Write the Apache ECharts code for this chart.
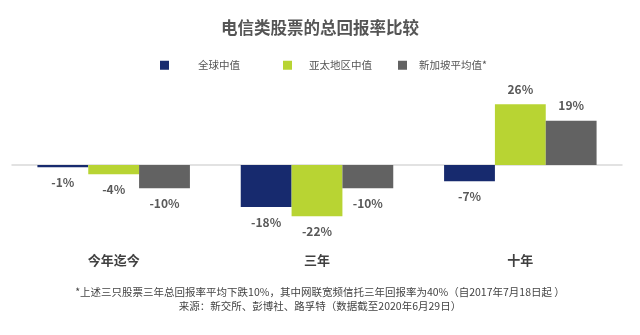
<!DOCTYPE html>
<html>
<head>
<meta charset="utf-8">
<script src="https://cdn.jsdelivr.net/npm/echarts@6/dist/echarts.min.js"></script>
<style>
  html, body { margin: 0; padding: 0; background: #ffffff; }
  #chart { width: 640px; height: 335px; }
</style>
</head>
<body>
<div id="chart"></div>
<script>
// Periods compared
const categories = ['今年迄今', '三年', '十年'];

// Total return (%) per group
const globalMedian = [-1, -18, -7];
const apacMedian = [-4, -22, 26];
const sgAverage = [-10, -10, 19];

const seriesNames = ['全球中值', '亚太地区中值', '新加坡平均值*'];
const seriesColors = ['#172a6e', '#b8d433', '#626262'];

const titleText = '电信类股票的总回报率比较';
const footnoteLines = [
  '*上述三只股票三年总回报率平均下跌10%，其中网联宽频信托三年回报率为40%（自2017年7月18日起 ）',
  '来源：新交所、彭博社、路孚特（数据截至2020年6月29日）'
];

const FONT = '"Noto Sans CJK SC", "Noto Sans", sans-serif';

const chart = echarts.init(document.getElementById('chart'));

// One bar series per group; value labels sit below negative bars and above positive ones
const seriesData = [globalMedian, apacMedian, sgAverage];
const series = seriesData.map(function (d, i) {
  return {
    name: seriesNames[i],
    type: 'bar',
    barGap: '0%',
    barCategoryGap: '25%',
    itemStyle: { color: seriesColors[i] },
    label: {
      show: true,
      formatter: function (p) { return p.value + '%'; },
      distance: 9,
      color: '#595959',
      fontSize: 12,
      fontWeight: 'bold',
      fontFamily: FONT
    },
    data: d.map(function (v) {
      return { value: v, label: { position: v < 0 ? 'bottom' : 'top' } };
    })
  };
});

function legendFor(i, left, pad) {
  return {
    data: [seriesNames[i]],
    left: left,
    top: 55,
    icon: 'rect',
    itemWidth: 9,
    itemHeight: 9,
    selectedMode: false,
    textStyle: {
      color: '#555555',
      fontSize: 10.5,
      fontFamily: FONT,
      padding: [0, 0, 0, pad]
    }
  };
}

chart.setOption({
  backgroundColor: '#ffffff',
  animation: false,
  title: {
    text: titleText,
    left: 'center',
    top: 14,
    textStyle: {
      color: '#555555',
      fontSize: 16.5,
      fontWeight: 'bold',
      fontFamily: FONT
    }
  },
  legend: [
    legendFor(0, 155, 24),
    legendFor(1, 278, 12),
    legendFor(2, 393, 7)
  ],
  grid: { left: 12, right: 18, top: 95, bottom: 100 },
  xAxis: {
    type: 'category',
    data: categories,
    axisLine: { onZero: true, lineStyle: { color: '#d9d9d9', width: 1.5 } },
    axisTick: { show: false },
    axisLabel: {
      margin: 19,
      color: '#404040',
      fontSize: 13,
      fontWeight: 'bold',
      fontFamily: FONT
    }
  },
  yAxis: {
    type: 'value',
    min: -30,
    max: 30,
    show: false,
    splitLine: { show: false }
  },
  series: series,
  graphic: footnoteLines.map(function (t, i) {
    return {
      type: 'text',
      left: 'center',
      top: 287 + i * 14,
      style: {
        text: t,
        fill: '#444444',
        fontSize: 10.5,
        fontFamily: FONT
      }
    };
  })
});
</script>
</body>
</html>
